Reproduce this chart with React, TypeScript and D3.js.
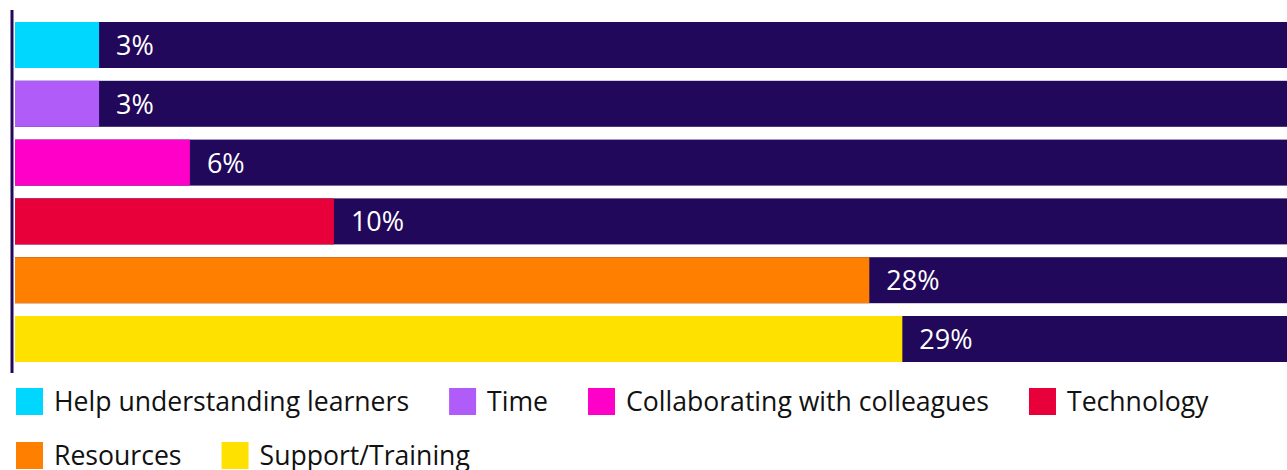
import React, { useEffect, useRef } from "react";
import * as d3 from "d3";

const categories = ["Help understanding learners", "Time", "Collaborating with colleagues", "Technology", "Resources", "Support/Training"];
const values = [2.75, 2.75, 5.72, 10.43, 27.94, 29.02];
const labels = ["3%", "3%", "6%", "10%", "28%", "29%"];
const colors = ["#00D7FF", "#AF5CF8", "#FF00C8", "#E8003A", "#FF8000", "#FFE100"];
const maxValue = 41.6;
const NAVY = "#22085A";

const W = 1287;
const H = 470;

export default function App() {
  const ref = useRef<SVGSVGElement | null>(null);

  useEffect(() => {
    const svg = d3.select(ref.current);
    svg.selectAll("*").remove();
    const font = "'Open Sans', 'Noto Sans', sans-serif";

    const x = d3.scaleLinear().domain([0, maxValue]).range([15, W]);
    const y = d3.scaleBand<string>().domain(categories).range([22, 362]).paddingInner(0.2177).paddingOuter(0);

    const g = svg.append("g");
    const rows = g.selectAll("g.row").data(categories).join("g").attr("class", "row");

    rows.append("rect")
      .attr("x", x(0))
      .attr("y", (d) => y(d)!)
      .attr("width", x(maxValue) - x(0))
      .attr("height", y.bandwidth())
      .attr("fill", NAVY);

    rows.append("rect")
      .attr("x", x(0))
      .attr("y", (d) => y(d)!)
      .attr("width", (_d, i) => x(values[i]) - x(0))
      .attr("height", y.bandwidth())
      .attr("fill", (_d, i) => colors[i]);

    rows.append("text")
      .attr("x", (_d, i) => x(values[i]) + 17)
      .attr("y", (d) => y(d)! + y.bandwidth() / 2)
      .attr("dy", "0.37em")
      .attr("fill", "#ffffff")
      .attr("font-family", font)
      .attr("font-size", 27)
      .text((_d, i) => labels[i]);

    g.append("line")
      .attr("x1", 12).attr("x2", 12)
      .attr("y1", 10).attr("y2", 373)
      .attr("stroke", NAVY)
      .attr("stroke-width", 3);

    // legend
    const lg = svg.append("g");
    let cx = 16;
    let cy = 388;
    const gap = 40;
    categories.forEach((c, i) => {
      const item = lg.append("g");
      item.append("rect").attr("width", 27).attr("height", 27).attr("fill", colors[i]);
      const t = item.append("text")
        .attr("x", 38)
        .attr("y", 13)
        .attr("dy", "0.36em")
        .attr("fill", "#111111")
        .attr("font-family", font)
        .attr("font-size", 26.6)
        .text(c);
      const tw = (t.node() as SVGTextElement).getComputedTextLength();
      const itemW = 38 + tw;
      if (cx + itemW > W - 10 && cx > 16) {
        cx = 16;
        cy += 54;
      }
      item.attr("transform", `translate(${cx},${cy})`);
      cx += itemW + gap;
    });
  }, []);

  return (
    <svg ref={ref} width={W} height={H} style={{ position: "absolute", left: 0, top: 0, background: "#fff" }} />
  );
}
